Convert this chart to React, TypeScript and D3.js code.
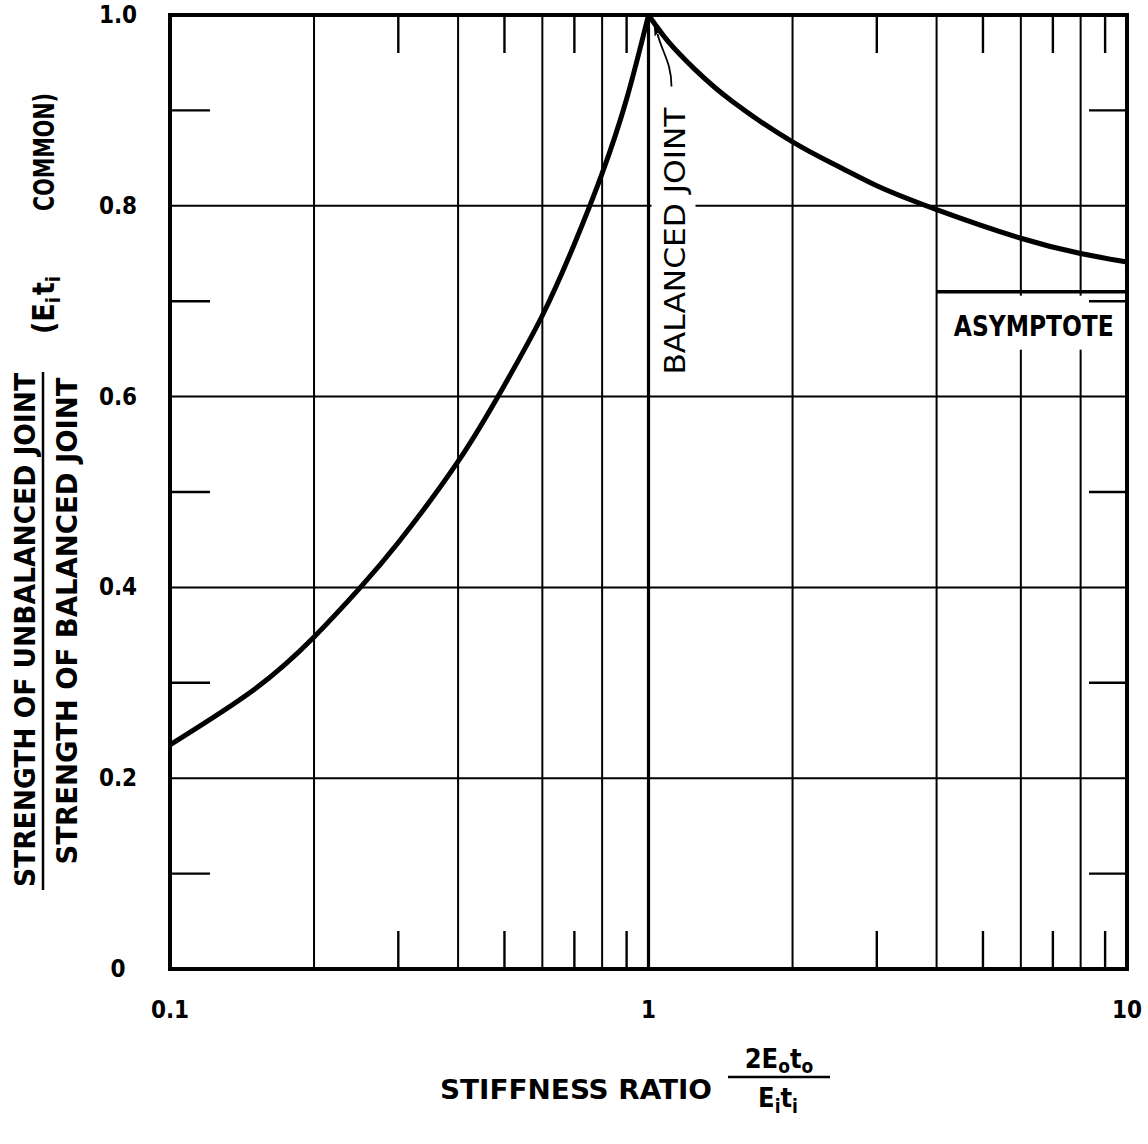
import React from 'react';
import * as d3 from 'd3';

// curve: stiffness ratio -> strength ratio
const leftBranch: [number, number][] = [
  [0.1, 0.235], [0.15, 0.293], [0.2, 0.348], [0.25, 0.4], [0.3, 0.447],
  [0.4, 0.532], [0.5, 0.612], [0.6, 0.685], [0.7, 0.76], [0.8, 0.834],
  [0.9, 0.912], [1, 1],
];
const rightBranch: [number, number][] = [
  [1, 1], [1.1, 0.972], [1.25, 0.943], [1.5, 0.909], [2, 0.867], [2.5, 0.841],
  [3, 0.821], [4, 0.796], [6, 0.766], [8, 0.75], [10, 0.741],
];
const asymptote = 0.71;
const asymptoteFrom = 4;

const xGrid = [0.2, 0.4, 0.6, 0.8, 2, 4, 6, 8];
const xMinor = [0.3, 0.5, 0.7, 0.9, 3, 5, 7, 9];
const xLabels = [0.1, 1, 10];
const yGrid = [0.2, 0.4, 0.6, 0.8];
const yMinor = [0.1, 0.3, 0.5, 0.7, 0.9];
const yLabels = [0, 0.2, 0.4, 0.6, 0.8, 1.0];

const W = 1148;
const H = 1144;
const font = '"DejaVu Sans Condensed", "DejaVu Sans", sans-serif';

const App: React.FC = () => {
  const x = d3.scaleLog().domain([0.1, 10]).range([170, 1127]);
  const y = d3.scaleLinear().domain([0, 1]).range([969, 15]);
  const [x0, x1] = x.range();
  const [y0, y1] = y.range();
  const tick = 38;

  const line = d3.line<[number, number]>()
    .x(d => x(d[0]))
    .y(d => y(d[1]))
    .curve(d3.curveNatural);

  const fmtY = (v: number) => (v === 0 ? '0' : v.toFixed(1));
  const fmtX = (v: number) => (v < 1 ? v.toFixed(1) : String(v));

  return (
    <div style={{ position: 'absolute', left: 0, top: 0 }}>
      <svg width={W} height={H} style={{ display: 'block', background: '#fff' }}>
        {/* full grid lines */}
        <g stroke="#000" strokeWidth={2}>
          {xGrid.map(v => (
            <line key={'xg' + v} x1={x(v)} x2={x(v)} y1={y0} y2={y1} />
          ))}
          {yGrid.map(v => (
            <line key={'yg' + v} x1={x0} x2={x1} y1={y(v)} y2={y(v)} />
          ))}
          <line x1={x(1)} x2={x(1)} y1={y0} y2={y1} strokeWidth={3.2} />
        </g>

        {/* gaps behind the labels */}
        <rect x={x(1) + 3} y={y(0.8) - 6} width={44} height={12} fill="#fff" />
        <rect x={x(4) + 8} y={y(asymptote) + 4} width={x(8.2) - x(4) - 8} height={54} fill="#fff" />

        {/* short ticks */}
        <g stroke="#000" strokeWidth={2.4}>
          {xMinor.map(v => (
            <g key={'xm' + v}>
              <line x1={x(v)} x2={x(v)} y1={y0} y2={y0 - tick} />
              <line x1={x(v)} x2={x(v)} y1={y1} y2={y1 + tick} />
            </g>
          ))}
          {yMinor.map(v => (
            <g key={'ym' + v}>
              <line x1={x0} x2={x0 + 40} y1={y(v)} y2={y(v)} />
              <line x1={x1} x2={x1 - 38} y1={y(v)} y2={y(v)} />
            </g>
          ))}
        </g>

        {/* asymptote */}
        <line x1={x(asymptoteFrom)} x2={x1} y1={y(asymptote)} y2={y(asymptote)} stroke="#000" strokeWidth={3.5} />
        <text x={(x(4) + x1) / 2 + 2} y={y(asymptote) + 44} textAnchor="middle" fontFamily={font}
          fontWeight="bold" fontSize={28} textLength={160} lengthAdjust="spacingAndGlyphs">ASYMPTOTE</text>

        {/* curve */}
        <path d={line(leftBranch) ?? ''} fill="none" stroke="#000" strokeWidth={5} strokeLinejoin="round" />
        <path d={line(rightBranch) ?? ''} fill="none" stroke="#000" strokeWidth={5} strokeLinejoin="round" />

        {/* frame */}
        <rect x={x0} y={y1} width={x1 - x0} height={y0 - y1} fill="none" stroke="#000" strokeWidth={4} />

        {/* balanced joint label with arrow */}
        <text transform={`translate(${x(1) + 36},${y(0.763)}) rotate(-90)`} textAnchor="middle"
          fontFamily={font} fontSize={29} textLength={267} lengthAdjust="spacingAndGlyphs">BALANCED JOINT</text>
        <path d={`M${x(1) + 23},${y(0.925)} C${x(1) + 23},${y(0.95)} ${x(1) + 14},${y(0.96)} ${x(1) + 9},${y(0.98)}`}
          fill="none" stroke="#000" strokeWidth={1.8} />
        <path d={`M${x(1) + 6},${y(0.99)} l-1,10 l6,-5 z`} fill="#000" stroke="#000" strokeWidth={1.5}
          transform={`rotate(-10 ${x(1) + 6} ${y(0.99)})`} />

        {/* tick labels */}
        <g fontFamily={font} fontWeight="bold" fontSize={24} textAnchor="middle">
          {yLabels.map(v => (
            <text key={'yl' + v} x={118} y={y(v) + 8}>{fmtY(v)}</text>
          ))}
          {xLabels.map(v => (
            <text key={'xl' + v} x={x(v)} y={1018}>{fmtX(v)}</text>
          ))}
        </g>

        {/* y axis title */}
        <g fontFamily={font} fontWeight="bold" fontSize={28}>
          <text transform="translate(35,630) rotate(-90)" textAnchor="middle" textLength={514}
            lengthAdjust="spacingAndGlyphs">STRENGTH OF UNBALANCED JOINT</text>
          <line x1={43} x2={43} y1={372} y2={890} stroke="#000" strokeWidth={2.5} />
          <text transform="translate(77,621) rotate(-90)" textAnchor="middle" textLength={487}
            lengthAdjust="spacingAndGlyphs">STRENGTH OF BALANCED JOINT</text>
          <text transform="translate(54,334) rotate(-90)" fontSize={30}>
            <tspan>(E</tspan>
            <tspan dy={6} fontSize={20}>i</tspan>
            <tspan dy={-6} dx={2}>t</tspan>
            <tspan dy={6} fontSize={20}>i</tspan>
          </text>
          <text transform="translate(54,211) rotate(-90)" textLength={118}
            lengthAdjust="spacingAndGlyphs">COMMON)</text>
        </g>

        {/* x axis title */}
        <g fontFamily={font} fontWeight="bold" fontSize={27}>
          <text x={440} y={1099} textLength={272} lengthAdjust="spacingAndGlyphs">STIFFNESS  RATIO</text>
          <text x={779} y={1068} textAnchor="middle">
            <tspan>2E</tspan>
            <tspan dy={5} fontSize={19}>o</tspan>
            <tspan dy={-5}>t</tspan>
            <tspan dy={5} fontSize={19}>o</tspan>
          </text>
          <line x1={728} x2={830} y1={1077} y2={1077} stroke="#000" strokeWidth={2.5} />
          <text x={778} y={1107} textAnchor="middle">
            <tspan>E</tspan>
            <tspan dy={6} fontSize={19}>i</tspan>
            <tspan dy={-6}>t</tspan>
            <tspan dy={6} fontSize={19}>i</tspan>
          </text>
        </g>
      </svg>
    </div>
  );
};

export default App;
